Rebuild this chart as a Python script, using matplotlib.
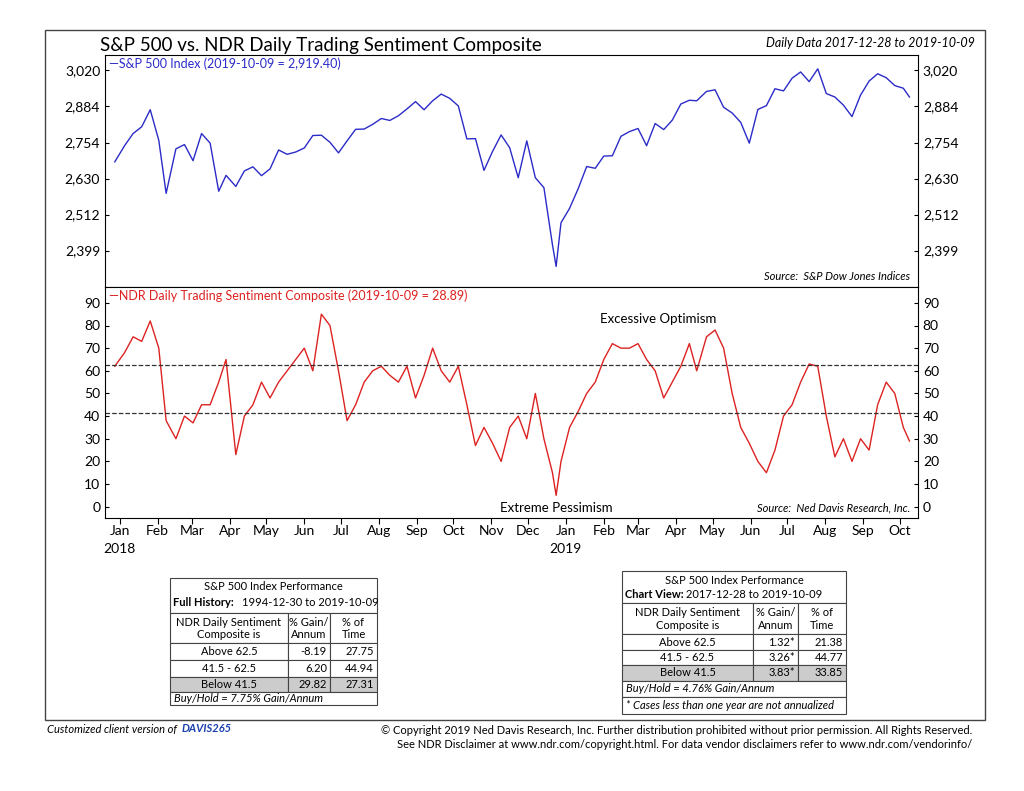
import numpy as np
import pandas as pd
import matplotlib
matplotlib.use("Agg")
import matplotlib.pyplot as plt
import matplotlib.dates as mdates
from matplotlib.patches import Rectangle

plt.rcParams['font.family'] = ['Lato', 'DejaVu Sans']

# ================= Data =================
spx_dates = ["2017-12-28", "2018-01-05", "2018-01-12", "2018-01-19", "2018-01-26", "2018-02-02",
             "2018-02-08", "2018-02-16", "2018-02-23", "2018-03-02", "2018-03-09", "2018-03-16",
             "2018-03-23", "2018-03-29", "2018-04-06", "2018-04-13", "2018-04-20", "2018-04-27",
             "2018-05-04", "2018-05-11", "2018-05-18", "2018-05-25", "2018-06-01", "2018-06-08",
             "2018-06-15", "2018-06-22", "2018-06-29", "2018-07-06", "2018-07-13", "2018-07-20",
             "2018-07-27", "2018-08-03", "2018-08-10", "2018-08-17", "2018-08-24", "2018-08-31",
             "2018-09-07", "2018-09-14", "2018-09-21", "2018-09-28", "2018-10-05", "2018-10-12",
             "2018-10-19", "2018-10-26", "2018-11-02", "2018-11-09", "2018-11-16", "2018-11-23",
             "2018-11-30", "2018-12-07", "2018-12-14", "2018-12-21", "2018-12-24", "2018-12-28",
             "2019-01-04", "2019-01-11", "2019-01-18", "2019-01-25", "2019-02-01", "2019-02-08",
             "2019-02-15", "2019-02-22", "2019-03-01", "2019-03-08", "2019-03-15", "2019-03-22",
             "2019-03-29", "2019-04-05", "2019-04-12", "2019-04-18", "2019-04-26", "2019-05-03",
             "2019-05-10", "2019-05-17", "2019-05-24", "2019-05-31", "2019-06-07", "2019-06-14",
             "2019-06-21", "2019-06-28", "2019-07-05", "2019-07-12", "2019-07-19", "2019-07-26",
             "2019-08-02", "2019-08-09", "2019-08-16", "2019-08-23", "2019-08-30", "2019-09-06",
             "2019-09-13", "2019-09-20", "2019-09-27", "2019-10-04", "2019-10-09"]
spx_vals = [2687, 2743, 2786, 2810, 2872, 2762, 2581, 2732, 2747, 2691, 2786, 2752,
            2588, 2641, 2604, 2656, 2670, 2640, 2663, 2728, 2713, 2721, 2735, 2779,
            2780, 2755, 2718, 2760, 2801, 2802, 2819, 2840, 2833, 2850, 2875, 2902,
            2872, 2905, 2930, 2914, 2886, 2767, 2768, 2658, 2723, 2781, 2736, 2633,
            2760, 2633, 2600, 2417, 2351, 2486, 2532, 2596, 2671, 2665, 2707, 2708,
            2776, 2793, 2804, 2743, 2822, 2800, 2834, 2893, 2907, 2905, 2940, 2946,
            2881, 2860, 2826, 2752, 2873, 2887, 2950, 2942, 2990, 3014, 2977, 3026,
            2932, 2919, 2889, 2847, 2926, 2979, 3007, 2992, 2962, 2952, 2919]

sent_dates = spx_dates
sent_vals = [62, 68, 75, 73, 82, 70, 38, 30, 40, 37, 45, 45,
             55, 65, 23, 40, 45, 55, 48, 55, 60, 65, 70, 60,
             85, 80, 60, 38, 45, 55, 60, 62, 58, 55, 62, 48,
             58, 70, 60, 55, 62, 45, 27, 35, 28, 20, 35, 40,
             30, 50, 30, 15, 5, 20, 35, 42, 50, 55, 65, 72,
             70, 70, 72, 65, 60, 48, 55, 62, 72, 60, 75, 78,
             70, 50, 35, 28, 20, 15, 25, 40, 45, 55, 63, 62,
             40, 22, 30, 20, 30, 25, 45, 55, 50, 35, 29]

spx_ticks = [2399, 2512, 2630, 2754, 2884, 3020]
sent_ticks = [0, 10, 20, 30, 40, 50, 60, 70, 80, 90]
upper_band = 62.5
lower_band = 41.5

hist_table = [["Above 62.5", "-8.19", "27.75"],
              ["41.5 - 62.5", "6.20", "44.94"],
              ["Below 41.5", "29.82", "27.31"]]
view_table = [["Above 62.5", "1.32*", "21.38"],
              ["41.5 - 62.5", "3.26*", "44.77"],
              ["Below 41.5", "3.83*", "33.85"]]

# ================= Figure =================
W, H = 1024, 791
fig = plt.figure(figsize=(W / 100, H / 100), dpi=100)


def px_axes(x0, y0, x1, y1):
    return fig.add_axes([x0 / W, 1 - y1 / H, (x1 - x0) / W, (y1 - y0) / H])


# outer frame
fig.add_artist(Rectangle((45 / W, 1 - 720 / H), 940 / W, 690 / H, transform=fig.transFigure,
                         fill=False, lw=1, ec='#444444'))

sd = pd.to_datetime(spx_dates)
nd = pd.to_datetime(sent_dates)
xmin, xmax = pd.Timestamp("2017-12-20"), pd.Timestamp("2019-10-16")

ax1 = px_axes(105, 55, 918, 287)
ax1.plot(sd, spx_vals, color='#2b2bc8', lw=1)
ax1.set_yscale('log')
ax1.set_ylim(2290, 3080)
ax1.set_xlim(xmin, xmax)
ax1.set_yticks(spx_ticks)
ax1.set_yticklabels([f"{t:,}" for t in spx_ticks])
ax1.yaxis.set_minor_locator(matplotlib.ticker.NullLocator())
ax1.tick_params(axis='y', which='both', left=True, right=True, labelleft=True, labelright=True,
                labelsize=10, length=3, direction='in')
ax1.set_xticks([])
ax1.text(0.005, 0.99, "—S&P 500 Index (2019-10-09 = 2,919.40)", transform=ax1.transAxes,
         color='#2b2bc8', fontsize=9, va='top')
ax1.text(0.99, 0.02, "Source:  S&P Dow Jones Indices", transform=ax1.transAxes,
         fontsize=8, style='italic', ha='right', va='bottom')

ax2 = px_axes(105, 287, 918, 518)
ax2.plot(nd, sent_vals, color='#dd2222', lw=1)
ax2.axhline(upper_band, color='#333333', ls='--', lw=0.9)
ax2.axhline(lower_band, color='#333333', ls='--', lw=0.9)
ax2.set_ylim(-5, 97)
ax2.set_xlim(xmin, xmax)
ax2.set_yticks(sent_ticks)
ax2.tick_params(axis='y', left=True, right=True, labelleft=True, labelright=True,
                labelsize=10, length=3, direction='in')
ax2.xaxis.set_major_locator(mdates.MonthLocator())
ax2.xaxis.set_major_formatter(mdates.DateFormatter('%b'))
ax2.tick_params(axis='x', which='major', length=4, direction='out', labelsize=10, pad=1)
ax2.text(0.005, 0.99, "—NDR Daily Trading Sentiment Composite (2019-10-09 = 28.89)",
         transform=ax2.transAxes, color='#dd2222', fontsize=9, va='top')
ax2.text(0.68, 0.845, "Excessive Optimism", transform=ax2.transAxes, fontsize=9.5, ha='center')
ax2.text(0.555, 0.025, "Extreme Pessimism", transform=ax2.transAxes, fontsize=9.5, ha='center')
ax2.text(0.99, 0.02, "Source:  Ned Davis Research, Inc.", transform=ax2.transAxes,
         fontsize=8, style='italic', ha='right', va='bottom')
for yr, d in [("2018", "2018-01-01"), ("2019", "2019-01-01")]:
    ax2.text(pd.Timestamp(d), -0.11, yr, transform=ax2.get_xaxis_transform(),
             ha='center', va='top', fontsize=10)

fig.text(100 / W, 1 - 46 / H, "S&P 500 vs. NDR Daily Trading Sentiment Composite",
         fontsize=13.5, va='center')
fig.text(975 / W, 1 - 43 / H, "Daily Data 2017-12-28 to 2019-10-09", fontsize=9,
         style='italic', ha='right', va='center')


# ================= Tables =================
def cell(x0, y0, x1, y1, grey=False):
    fig.add_artist(Rectangle((x0 / W, 1 - y1 / H), (x1 - x0) / W, (y1 - y0) / H,
                             transform=fig.transFigure, fc='#cccccc' if grey else 'white',
                             ec='#444444', lw=0.8))


def txt(x, y, s, ha='center', **kw):
    return fig.text(x / W, 1 - y / H, s, ha=ha, va='center', fontsize=8, **kw)


def perf_table(x0, cols, rows_y, title2, label, rows, footers, gap):
    x1 = cols[-1]
    cell(x0, rows_y[0], x1, rows_y[1])
    txt((x0 + x1) / 2, rows_y[0] + 9, "S&P 500 Index Performance")
    txt(x0 + 3, rows_y[0] + 24, label, ha='left', fontweight='bold')
    txt(x0 + gap, rows_y[0] + 24, title2, ha='left')
    edges = [x0] + cols
    heads = [("NDR Daily Sentiment", "Composite is"), ("% Gain/", "Annum"), ("% of", "Time")]
    for i, (a, b) in enumerate(heads):
        cell(edges[i], rows_y[1], edges[i + 1], rows_y[2])
        xc = (edges[i] + edges[i + 1]) / 2
        txt(xc, rows_y[1] + (rows_y[2] - rows_y[1]) * 0.3, a)
        txt(xc, rows_y[1] + (rows_y[2] - rows_y[1]) * 0.72, b)
    for r, row in enumerate(rows):
        ya, yb = rows_y[2 + r], rows_y[3 + r]
        for i, v in enumerate(row):
            cell(edges[i], ya, edges[i + 1], yb, grey=(r == 2))
            if i == 0:
                txt((edges[0] + edges[1]) / 2, (ya + yb) / 2, v)
            else:
                txt(edges[i + 1] - 3, (ya + yb) / 2, v, ha='right')
    for k, f in enumerate(footers):
        ya, yb = rows_y[5 + k], rows_y[6 + k]
        cell(x0, ya, x1, yb)
        txt(x0 + 4, (ya + yb) / 2, f, ha='left', style='italic')


perf_table(170, [288, 330, 377], [578, 613, 643, 660, 677, 692, 705],
           "1994-12-30 to 2019-10-09", "Full History:", hist_table,
           ["Buy/Hold = 7.75% Gain/Annum"], 72)
perf_table(622, [753, 798, 846], [571, 603, 634, 650, 665, 681, 697, 714],
           "2017-12-28 to 2019-10-09", "Chart View:", view_table,
           ["Buy/Hold = 4.76% Gain/Annum", "* Cases less than one year are not annualized"], 64)

# ================= Footer =================
fig.text(47 / W, 1 - 729 / H, "Customized client version of ", fontsize=8, style='italic',
         va='center')
fig.text(182 / W, 1 - 729 / H, "DAVIS265", fontsize=8, style='italic', fontweight='bold',
         color='#1a3fb0', va='center')
fig.text(972 / W, 1 - 730 / H, "© Copyright 2019 Ned Davis Research, Inc. Further distribution "
         "prohibited without prior permission. All Rights Reserved.", fontsize=8, ha='right',
         va='center')
fig.text(972 / W, 1 - 745 / H, "See NDR Disclaimer at www.ndr.com/copyright.html. For data vendor "
         "disclaimers refer to www.ndr.com/vendorinfo/", fontsize=8, ha='right', va='center')

fig.savefig("out.png", dpi=100)
